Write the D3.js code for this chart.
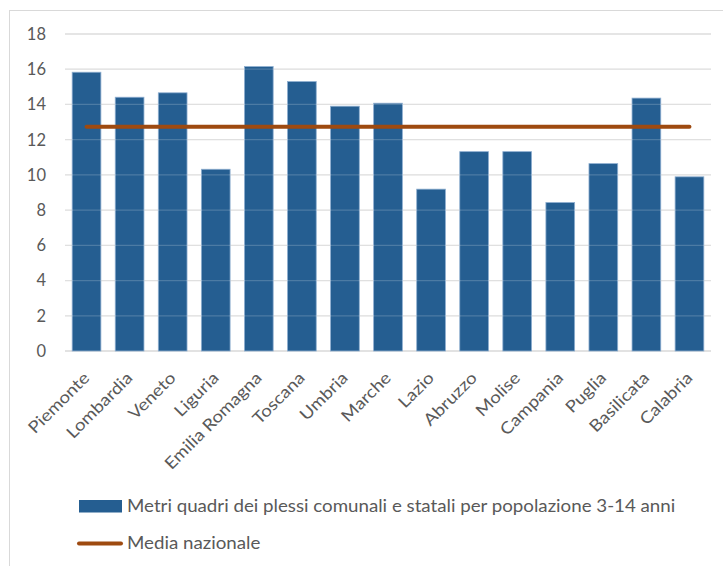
<!DOCTYPE html>
<html>
<head>
<meta charset="utf-8">
<script src="https://cdn.jsdelivr.net/npm/d3@7"></script>
<style>
  body { margin: 0; background: #fff; }
  svg { display: block; font-family: Lato, "Open Sans", sans-serif; }
</style>
</head>
<body>
<svg id="chart"></svg>
<script>
// Data
const regions = ['Piemonte', 'Lombardia', 'Veneto', 'Liguria', 'Emilia Romagna', 'Toscana', 'Umbria',
  'Marche', 'Lazio', 'Abruzzo', 'Molise', 'Campania', 'Puglia', 'Basilicata', 'Calabria'];
const metriQuadri = [15.83, 14.41, 14.66, 10.32, 16.15, 15.30, 13.90, 14.07, 9.19, 11.32, 11.32, 8.43, 10.64, 14.36, 9.89];
const mediaNazionale = 12.73;
const yTicks = [0, 2, 4, 6, 8, 10, 12, 14, 16, 18];
const legendLabels = ['Metri quadri dei plessi comunali e statali per popolazione 3-14 anni', 'Media nazionale'];

// Setup
const width = 723, height = 566;
const margin = { left: 65, right: 12, top: 34, bottom: 215 };
const blue = '#255e91', brown = '#9e4a10', grid = '#d9d9d9', textCol = '#595959';
const stretch = 1.135; // text in the picture is a bit wider than Lato

const svg = d3.select('#chart')
  .attr('width', width)
  .attr('height', height);

// chart border
svg.append('rect')
  .attr('x', 9.5).attr('y', 10.5)
  .attr('width', width).attr('height', height)
  .attr('fill', 'none')
  .attr('stroke', grid);

const x = d3.scaleBand()
  .domain(regions)
  .range([margin.left, width - margin.right])
  .paddingInner(0.333)
  .paddingOuter(0.1665);

const y = d3.scaleLinear()
  .domain([0, 18])
  .range([height - margin.bottom, margin.top]);

// gridlines
svg.append('g')
  .selectAll('line')
  .data(yTicks)
  .enter().append('line')
  .attr('x1', margin.left)
  .attr('x2', width - margin.right)
  .attr('y1', d => y(d))
  .attr('y2', d => y(d))
  .attr('stroke', grid)
  .attr('stroke-width', 1.3);

// y labels
svg.append('g')
  .selectAll('text')
  .data(yTicks)
  .enter().append('text')
  .attr('x', 46)
  .attr('y', d => y(d))
  .attr('dy', '0.36em')
  .attr('text-anchor', 'end')
  .attr('fill', textCol)
  .style('font-size', '16.5px')
  .text(d => d);

// bars
svg.append('g')
  .selectAll('rect')
  .data(metriQuadri)
  .enter().append('rect')
  .attr('x', (d, i) => x(regions[i]))
  .attr('y', d => y(d))
  .attr('width', x.bandwidth())
  .attr('height', d => y(0) - y(d))
  .attr('fill', blue)
  .attr('stroke', '#8eaed0')
  .attr('stroke-width', 0.8);

// faint grid showing through the bars
svg.append('g')
  .selectAll('line')
  .data(yTicks.slice(1))
  .enter().append('line')
  .attr('x1', margin.left)
  .attr('x2', width - margin.right)
  .attr('y1', d => y(d))
  .attr('y2', d => y(d))
  .attr('stroke', '#ffffff')
  .attr('stroke-opacity', 0.18)
  .attr('stroke-width', 1.3);

// media nazionale line
const line = d3.line()
  .x(d => x(d) + x.bandwidth() / 2)
  .y(() => y(mediaNazionale));

svg.append('path')
  .datum(regions)
  .attr('d', line)
  .attr('fill', 'none')
  .attr('stroke', brown)
  .attr('stroke-width', 4)
  .attr('stroke-linecap', 'round');

// x labels
svg.append('g')
  .selectAll('text')
  .data(regions)
  .enter().append('text')
  .attr('transform', d => `translate(${x(d) + x.bandwidth() / 2 + 4},${y(0) + 28}) rotate(-45) scale(${stretch},1)`)
  .attr('text-anchor', 'end')
  .attr('fill', textCol)
  .style('font-size', '16.5px')
  .text(d => d);

// legend
const legend = svg.append('g');
legend.append('rect')
  .attr('x', 79).attr('y', 500)
  .attr('width', 43).attr('height', 12.5)
  .attr('fill', blue);
legend.append('line')
  .attr('x1', 79).attr('x2', 121)
  .attr('y1', 543.5).attr('y2', 543.5)
  .attr('stroke', brown)
  .attr('stroke-width', 4)
  .attr('stroke-linecap', 'round');
legend.selectAll('text')
  .data(legendLabels)
  .enter().append('text')
  .attr('transform', (d, i) => `translate(127,${512 + i * 37}) scale(${stretch},1)`)
  .attr('fill', textCol)
  .style('font-size', '16.5px')
  .text(d => d);
</script>
</body>
</html>
